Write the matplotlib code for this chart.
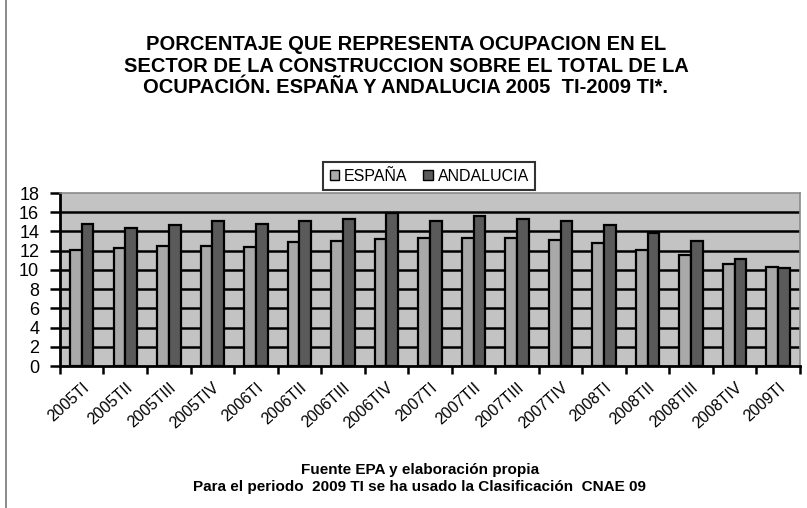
import matplotlib

matplotlib.use("Agg")

import matplotlib.pyplot as plt
import matplotlib.transforms as mtransforms
import numpy as np
from matplotlib.lines import Line2D
from matplotlib.patches import Patch

plt.rcParams["font.family"] = ["Liberation Sans", "DejaVu Sans"]

quarters = [
    "2005TI", "2005TII", "2005TIII", "2005TIV",
    "2006TI", "2006TII", "2006TIII", "2006TIV",
    "2007TI", "2007TII", "2007TIII", "2007TIV",
    "2008TI", "2008TII", "2008TIII", "2008TIV",
    "2009TI",
]
espana = [12.1, 12.3, 12.5, 12.5, 12.4, 12.9, 13.0, 13.2,
          13.3, 13.3, 13.3, 13.1, 12.8, 12.1, 11.6, 10.6, 10.3]
andalucia = [14.8, 14.4, 14.7, 15.1, 14.8, 15.1, 15.3, 15.9,
             15.1, 15.6, 15.3, 15.1, 14.7, 13.8, 13.0, 11.1, 10.2]

title = ("PORCENTAJE QUE REPRESENTA OCUPACION EN EL\n"
         "SECTOR DE LA CONSTRUCCION SOBRE EL TOTAL DE LA\n"
         "OCUPACIÓN. ESPAÑA Y ANDALUCIA 2005  TI-2009 TI*.")
footer = ("Fuente EPA y elaboración propia\n"
          "Para el periodo  2009 TI se ha usado la Clasificación  CNAE 09")

c_esp = "#a9a9a9"
c_and = "#5a5a5a"

fig = plt.figure(figsize=(8.07, 5.08), dpi=100)
ax = fig.add_axes([0.0743, 0.2795, 0.917, 0.3405])
ax.set_facecolor("#c3c3c3")

x = np.arange(len(quarters))
w = 0.27
ax.bar(x - w / 2, espana, w, color=c_esp, edgecolor="black", linewidth=1.6, zorder=3)
ax.bar(x + w / 2, andalucia, w, color=c_and, edgecolor="black", linewidth=1.6, zorder=3)

ax.set_xlim(-0.5, len(quarters) - 0.5)
ax.set_ylim(0, 18)
ax.set_yticks(np.arange(0, 19, 2))
for yv in np.arange(2, 17, 2):
    ax.axhline(yv, color="black", linewidth=1.8, zorder=1)

# category boundaries carry the tick marks, centres carry the labels
ax.set_xticks(np.arange(-0.5, len(quarters), 1.0))
ax.set_xticklabels([])
ax.set_xticks(x, minor=True)
ax.set_xticklabels(quarters, minor=True, rotation=42, ha="right", va="top",
                   rotation_mode="anchor", fontsize=11.5)
shift = mtransforms.ScaledTranslation(10 / 100, 0, fig.dpi_scale_trans)
for lab in ax.get_xticklabels(minor=True):
    lab.set_transform(lab.get_transform() + shift)
ax.tick_params(axis="x", which="minor", length=0, pad=10)
ax.tick_params(axis="x", which="major", length=6, width=1.8, direction="out")
ax.tick_params(axis="y", length=7, width=1.8, direction="out", labelsize=13, pad=8)

for side in ("left", "bottom"):
    ax.spines[side].set_linewidth(2)
    ax.spines[side].set_color("black")
for side in ("top", "right"):
    ax.spines[side].set_linewidth(1.2)
    ax.spines[side].set_color("#8a8a8a")

fig.text(0.503, 0.870, title, ha="center", va="center", fontsize=14.5,
         fontweight="bold", linespacing=1.17)

handles = [Patch(facecolor=c_esp, edgecolor="black", label="ESPAÑA"),
           Patch(facecolor=c_and, edgecolor="black", label="ANDALUCIA")]
leg = fig.legend(handles=handles, loc="center", bbox_to_anchor=(0.532, 0.6535),
                 ncol=2, frameon=True, fancybox=False, fontsize=11.5,
                 handlelength=0.6, handleheight=0.6, handletextpad=0.3,
                 columnspacing=1.0, borderpad=0.4)
leg.get_frame().set_edgecolor("black")
leg.get_frame().set_linewidth(1.5)

fig.text(0.52, 0.058, footer, ha="center", va="center", fontsize=11,
         fontweight="bold", linespacing=1.3)

fig.add_artist(Line2D([0.008, 0.008], [0.0, 1.0], color="#777777", linewidth=1.2))

fig.savefig("out.png", dpi=100)
